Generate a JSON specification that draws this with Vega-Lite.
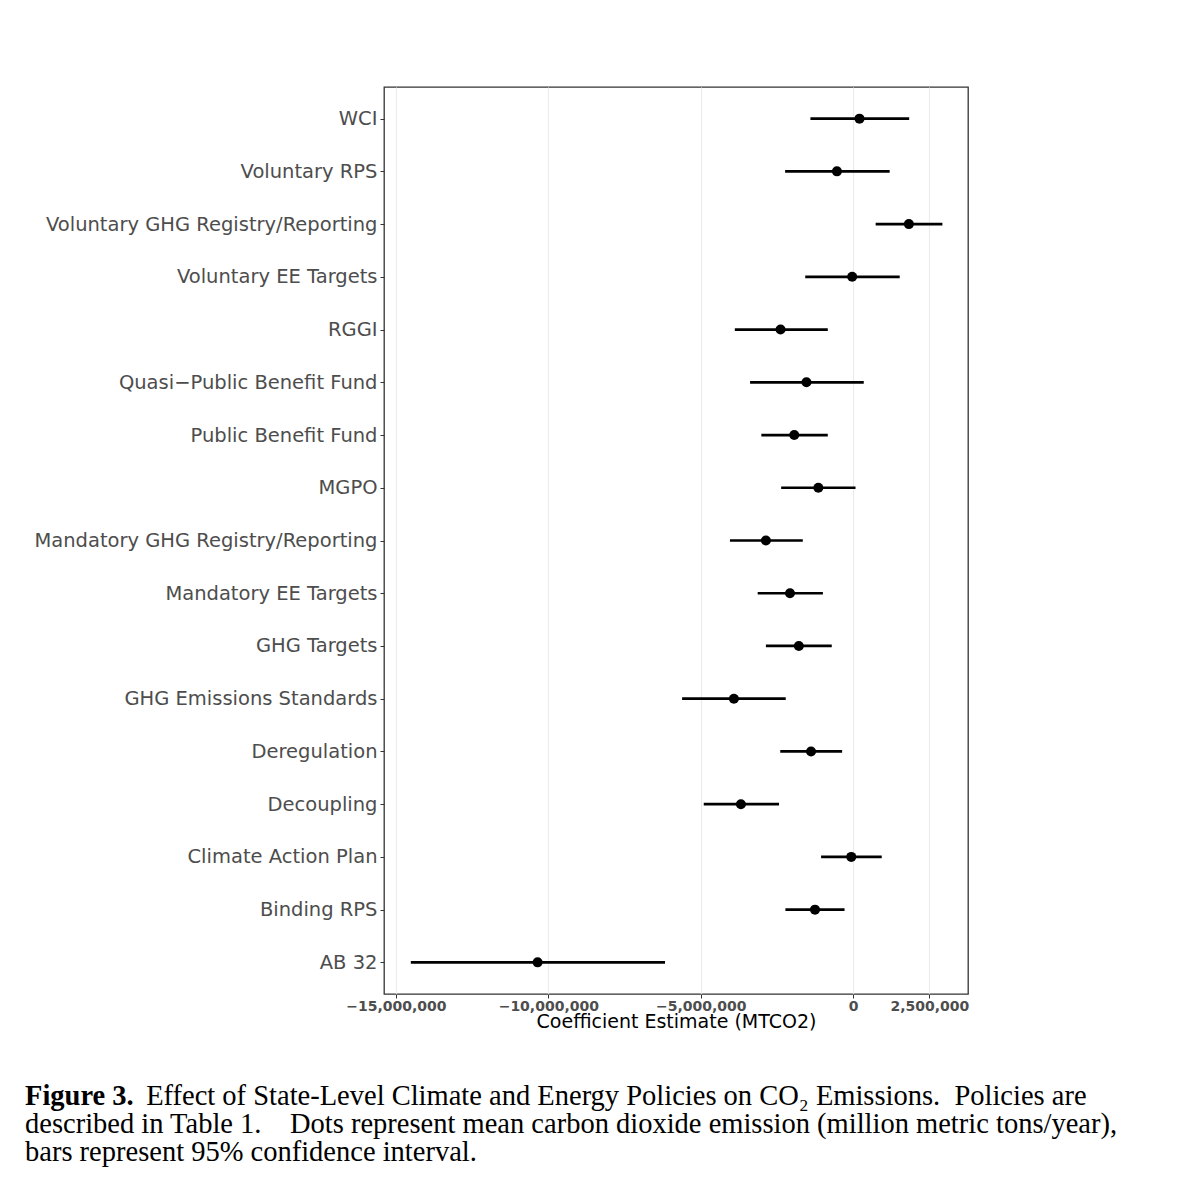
{
  "$schema": "https://vega.github.io/schema/vega-lite/v6.json",
  "width": 584,
  "height": 907,
  "autosize": "none",
  "padding": {"left": 384, "top": 87, "right": 210, "bottom": 210},
  "background": "white",
  "title": {
    "text": "Figure 3.",
    "subtitle": [
      "\u200b\u00a0\u00a0\u00a0\u00a0\u00a0\u00a0\u00a0\u00a0\u00a0\u00a0\u00a0\u00a0\u00a0\u00a0\u00a0\u00a0\u00a0Effect of State-Level Climate and Energy Policies on CO₂ Emissions.\u00a0 Policies are",
      "described in Table 1.\u00a0\u00a0\u00a0 Dots represent mean carbon dioxide emission (million metric tons/year),",
      "bars represent 95% confidence interval."
    ],
    "orient": "bottom",
    "anchor": "start",
    "frame": "group",
    "dx": -359,
    "offset": 51,
    "font": "Liberation Serif",
    "fontSize": 28.5,
    "fontWeight": "bold",
    "color": "black",
    "subtitleFont": "Liberation Serif",
    "subtitleFontSize": 28.5,
    "subtitleFontWeight": "normal",
    "subtitleColor": "black",
    "subtitleLineHeight": 28,
    "subtitlePadding": -28.5
  },
  "data": {
    "values": [
      {"policy": "WCI", "est": 210000, "lo": -1400000, "hi": 1840000},
      {"policy": "Voluntary RPS", "est": -530000, "lo": -2230000, "hi": 1200000},
      {"policy": "Voluntary GHG Registry/Reporting", "est": 1830000, "lo": 740000, "hi": 2930000},
      {"policy": "Voluntary EE Targets", "est": -30000, "lo": -1570000, "hi": 1530000},
      {"policy": "RGGI", "est": -2380000, "lo": -3880000, "hi": -830000},
      {"policy": "Quasi−Public Benefit Fund", "est": -1530000, "lo": -3380000, "hi": 350000},
      {"policy": "Public Benefit Fund", "est": -1930000, "lo": -3010000, "hi": -830000},
      {"policy": "MGPO", "est": -1140000, "lo": -2360000, "hi": 80000},
      {"policy": "Mandatory GHG Registry/Reporting", "est": -2860000, "lo": -4040000, "hi": -1650000},
      {"policy": "Mandatory EE Targets", "est": -2070000, "lo": -3130000, "hi": -990000},
      {"policy": "GHG Targets", "est": -1780000, "lo": -2860000, "hi": -700000},
      {"policy": "GHG Emissions Standards", "est": -3910000, "lo": -5610000, "hi": -2210000},
      {"policy": "Deregulation", "est": -1380000, "lo": -2390000, "hi": -360000},
      {"policy": "Decoupling", "est": -3680000, "lo": -4900000, "hi": -2430000},
      {"policy": "Climate Action Plan", "est": -60000, "lo": -1050000, "hi": 940000},
      {"policy": "Binding RPS", "est": -1250000, "lo": -2220000, "hi": -280000},
      {"policy": "AB 32", "est": -10350000, "lo": -14510000, "hi": -6170000}
    ]
  },
  "encoding": {
    "y": {
      "field": "policy",
      "type": "nominal",
      "sort": ["WCI", "Voluntary RPS", "Voluntary GHG Registry/Reporting", "Voluntary EE Targets", "RGGI", "Quasi−Public Benefit Fund", "Public Benefit Fund", "MGPO", "Mandatory GHG Registry/Reporting", "Mandatory EE Targets", "GHG Targets", "GHG Emissions Standards", "Deregulation", "Decoupling", "Climate Action Plan", "Binding RPS", "AB 32"],
      "scale": {"type": "point", "padding": 0.6},
      "axis": {
        "title": null,
        "domain": false,
        "grid": false,
        "ticks": true,
        "tickSize": 4,
        "tickColor": "#333333",
        "tickWidth": 1,
        "labelFont": "DejaVu Sans",
        "labelFontSize": 19.5,
        "labelColor": "#4d4d4d",
        "labelPadding": 3,
        "labelLimit": 0
      }
    }
  },
  "layer": [
    {
      "mark": {"type": "rule", "color": "black", "strokeWidth": 2.7},
      "encoding": {
        "x": {
          "field": "lo",
          "type": "quantitative",
          "scale": {"domain": [-15390000, 3770000], "nice": false, "zero": false},
          "axis": {
            "values": [-15000000, -10000000, -5000000, 0, 2500000],
            "labelExpr": "format(datum.value, ',')",
            "title": "Coefficient Estimate (MTCO2)",
            "titleFont": "DejaVu Sans",
            "titleFontSize": 19,
            "titleFontWeight": "normal",
            "titleColor": "black",
            "titlePadding": -1,
            "domain": false,
            "grid": true,
            "gridColor": "#ebebeb",
            "gridWidth": 1.1,
            "tickSize": 4,
            "tickColor": "#333333",
            "tickWidth": 1,
            "labelFont": "DejaVu Sans",
            "labelFontWeight": "bold",
            "labelFontSize": 14,
            "labelColor": "#4d4d4d",
            "labelPadding": 1,
            "labelFlush": false,
            "labelOverlap": false
          }
        },
        "x2": {"field": "hi"}
      }
    },
    {
      "mark": {"type": "point", "filled": true, "color": "black", "opacity": 1, "size": 100},
      "encoding": {
        "x": {"field": "est", "type": "quantitative"}
      }
    }
  ],
  "config": {
    "view": {"stroke": "#333333", "strokeWidth": 1.3, "fill": "white"}
  }
}
